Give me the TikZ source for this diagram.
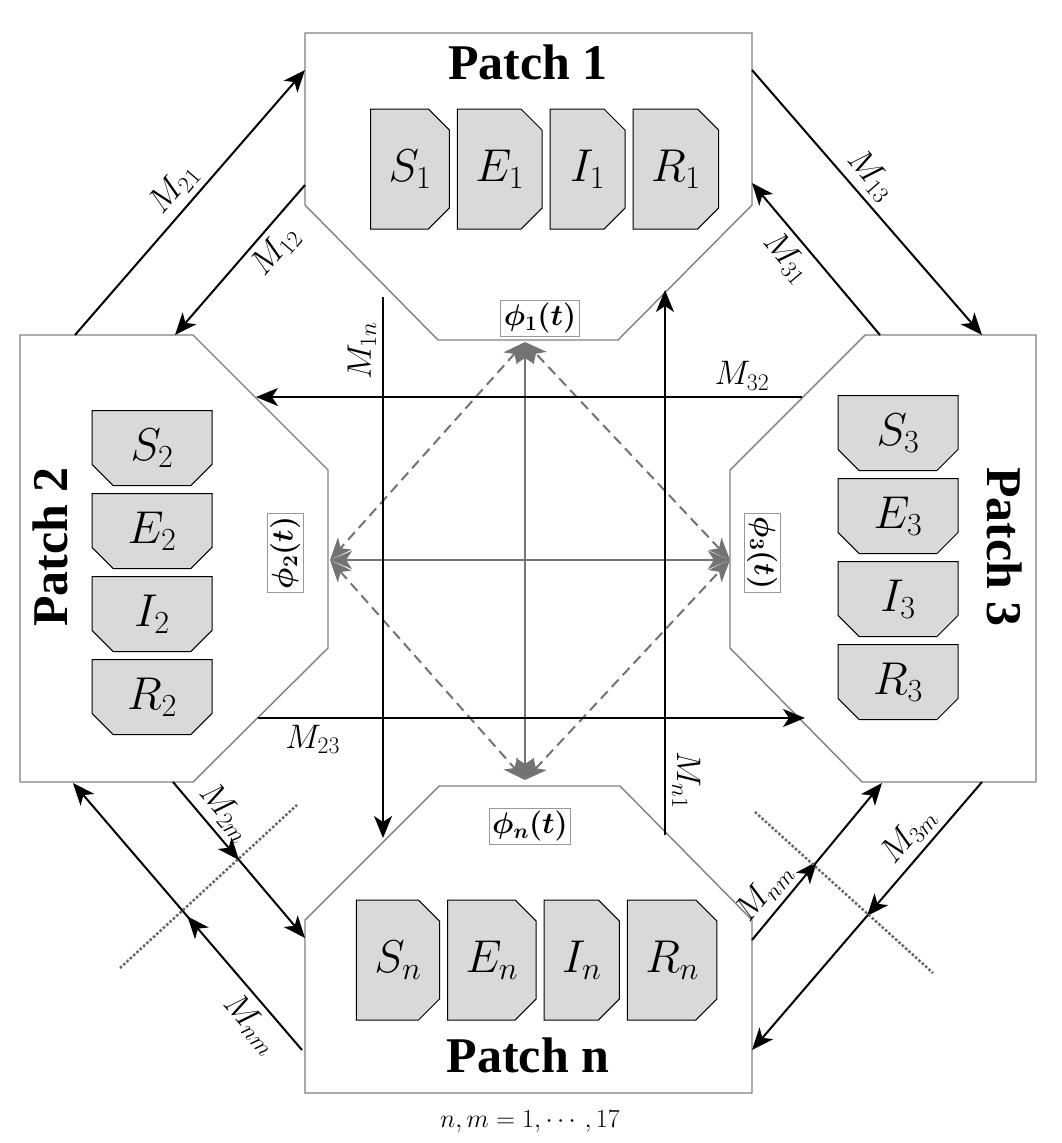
\RequirePackage{fix-cm}
\documentclass[tikz,border=0pt]{standalone}
\usepackage{amsmath,bm}
\usepackage{fontspec}
\setmainfont{Liberation Serif}
\usetikzlibrary{shapes.misc, arrows.meta, positioning, decorations.markings}
\tikzset{
  patch/.style = {draw=black!50, line width=1.4pt, fill=white},
  compR/.style = {chamfered rectangle, chamfered rectangle corners={north east,south east}, chamfered rectangle xsep=18pt, draw=black, line width=1pt, fill=black!15, minimum width=75pt, minimum height=120pt, inner sep=0pt, font=\fontsize{46}{48}\selectfont},
  compB/.style = {chamfered rectangle, chamfered rectangle corners={south west,south east}, chamfered rectangle xsep=18pt, draw=black, line width=1pt, fill=black!15, minimum width=120pt, minimum height=75pt, inner sep=0pt, font=\fontsize{46}{48}\selectfont},
  title/.style = {font=\fontsize{50}{52}\selectfont\bfseries},
  phibox/.style = {draw=black!40, line width=1pt, fill=white, inner sep=3pt, font=\fontsize{30}{32}\selectfont},
  mlab/.style = {font=\fontsize{34}{36}\selectfont, inner sep=6pt},
  arrow/.style = {line width=2pt, -{Stealth[length=22pt,width=18pt,inset=6pt]}},
  garrow/.style = {line width=2pt, draw=black!55, {Stealth[length=22pt,width=18pt,inset=6pt]}-{Stealth[length=22pt,width=18pt,inset=6pt]}},
  gdash/.style = {garrow, dashed, dash pattern=on 10pt off 6pt},
  mid/.style = {decoration={markings, mark=at position 0.5 with {\arrow{Stealth[length=22pt,width=18pt,inset=6pt]}}}, postaction={decorate}},
  cut/.style = {dotted, line width=2.5pt, draw=black!60}
}
\begin{document}
\begin{tikzpicture}[x=1pt, y=-1pt]
\useasboundingbox (0,0) rectangle (1062,1143);

% patches
\draw[patch] (305,33) -- (752,33) -- (752,205) -- (618,340) -- (438,340) -- (305,205) -- cycle;
\draw[patch] (20,335) -- (193,335) -- (328,470) -- (328,648) -- (193,782) -- (20,782) -- cycle;
\draw[patch] (1036,335) -- (865,335) -- (730,470) -- (730,648) -- (862,782) -- (1036,782) -- cycle;
\draw[patch] (305,1093) -- (752,1093) -- (752,920) -- (620,786) -- (439,786) -- (305,920) -- cycle;

\node (t1) [title] at (528,62) {Patch 1};
\node (tn) [title] at (528,1055) {Patch n};
\node (t2) [title, rotate=90] at (50,547) {Patch 2};
\node (t3) [title, rotate=-90] at (1005,547) {Patch 3};

% compartments
\node (S1) [compR] at (410,169) {$S_1$};
\node (E1) [compR, right=7pt of S1] {$E_1$};
\node (I1) [compR, right=7pt of E1] {$I_1$};
\node (R1) [compR, right=7pt of I1] {$R_1$};
\node (Sn) [compR] at (398,960) {$S_n$};
\node (En) [compR, right=7pt of Sn] {$E_n$};
\node (In) [compR, right=7pt of En] {$I_n$};
\node (Rn) [compR, right=7pt of In] {$R_n$};
\node (S2) [compB] at (152,448) {$S_2$};
\node (E2) [compB, below=7pt of S2] {$E_2$};
\node (I2) [compB, below=7pt of E2] {$I_2$};
\node (R2) [compB, below=7pt of I2] {$R_2$};
\node (S3) [compB] at (898,433) {$S_3$};
\node (E3) [compB, below=7pt of S3] {$E_3$};
\node (I3) [compB, below=7pt of E3] {$I_3$};
\node (R3) [compB, below=7pt of I3] {$R_3$};

% coupling
\node (p1) [phibox] at (540,318) {$\boldsymbol{\phi_1(t)}$};
\node (pn) [phibox] at (530,826) {$\boldsymbol{\phi_n(t)}$};
\node (p2) [phibox, rotate=90] at (285,553) {$\boldsymbol{\phi_2(t)}$};
\node (p3) [phibox, rotate=-90] at (762,553) {$\boldsymbol{\phi_3(t)}$};
\coordinate (g1) at (525,342);
\coordinate (gn) at (525,780);
\coordinate (g2) at (330,560);
\coordinate (g3) at (730,560);
\draw[garrow] (g1) -- (gn);
\draw[garrow] (g2) -- (g3);
\draw[gdash] (g1) -- (g2);
\draw[gdash] (g2) -- (gn);
\draw[gdash] (gn) -- (g3);
\draw[gdash] (g3) -- (g1);

% movements
\coordinate (a21) at (75,335);   \coordinate (b21) at (305,70);
\coordinate (a12) at (305,185);  \coordinate (b12) at (175,335);
\coordinate (a13) at (752,70);   \coordinate (b13) at (982,335);
\coordinate (a31) at (880,335);  \coordinate (b31) at (752,183);
\coordinate (a1n) at (383,297);  \coordinate (b1n) at (383,838);
\coordinate (an1) at (665,835);  \coordinate (bn1) at (665,290);
\coordinate (a32) at (802,397);  \coordinate (b32) at (256,397);
\coordinate (a23) at (258,718);  \coordinate (b23) at (805,718);
\coordinate (a2m) at (173,782);  \coordinate (b2m) at (305,938);
\coordinate (anm) at (302,1050); \coordinate (bnm) at (73,783);
\coordinate (cnm) at (752,940);  \coordinate (dnm) at (882,783);
\coordinate (a3m) at (982,782);  \coordinate (b3m) at (752,1050);

\draw[arrow] (a21) -- node[mlab, sloped, above] {$M_{21}$} (b21);
\draw[arrow] (a12) -- node[mlab, sloped, below, pos=0.35] {$M_{12}$} (b12);
\draw[arrow] (a13) -- node[mlab, sloped, above, pos=0.45] {$M_{13}$} (b13);
\draw[arrow] (a31) -- node[mlab, sloped, below, pos=0.6] {$M_{31}$} (b31);
\draw[arrow] (a1n) -- node[mlab, rotate=90, anchor=south, pos=0.1] {$M_{1n}$} (b1n);
\draw[arrow] (an1) -- node[mlab, rotate=-90, anchor=south, pos=0.1] {$M_{n1}$} (bn1);
\draw[arrow] (a32) -- node[mlab, above, pos=0.11] {$M_{32}$} (b32);
\draw[arrow] (a23) -- node[mlab, below, pos=0.1] {$M_{23}$} (b23);
\draw[arrow, mid] (a2m) -- node[mlab, sloped, above, pos=0.28] {$M_{2m}$} (b2m);
\draw[arrow, mid] (anm) -- node[mlab, sloped, below, pos=0.15] {$M_{nm}$} (bnm);
\draw[arrow, mid] (cnm) -- node[mlab, sloped, above, pos=0.22] {$M_{nm}$} (dnm);
\draw[arrow, mid] (a3m) -- node[mlab, sloped, above, pos=0.25] {$M_{3m}$} (b3m);

\coordinate (c1) at (120,968); \coordinate (c2) at (297,805);
\coordinate (c3) at (755,812); \coordinate (c4) at (933,973);
\draw[cut] (c1) -- (c2);
\draw[cut] (c3) -- (c4);

\node (range) [font=\fontsize{26}{28}\selectfont] at (530,1122) {$n,m=1,\cdots,17$};
\end{tikzpicture}
\end{document}
